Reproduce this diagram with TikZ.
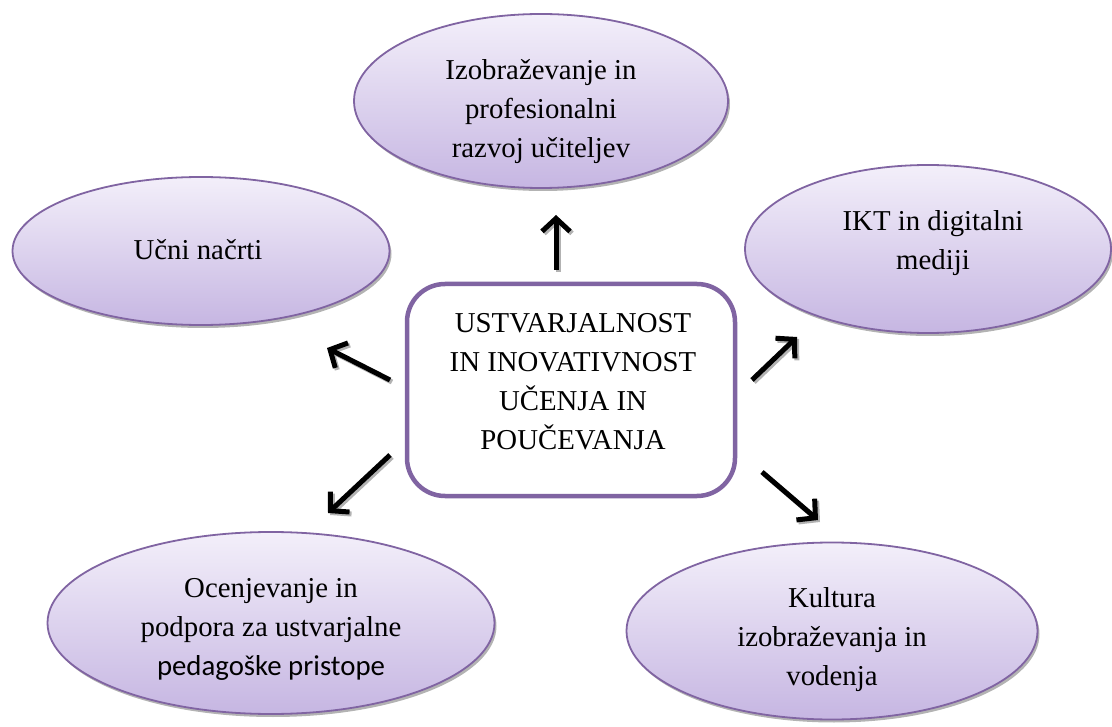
\documentclass[tikz,border=0pt]{standalone}
\usepackage{fontspec}
\setmainfont{Liberation Serif}
\newfontfamily\calibrifont{Carlito}
\usetikzlibrary{shapes.geometric,shadows,arrows.meta}
\definecolor{purp}{HTML}{8064A2}
\definecolor{ltop}{RGB}{243,239,250}
\definecolor{lbot}{RGB}{198,182,226}
\begin{document}
\begin{tikzpicture}[x=1pt,y=1pt,
  bubble/.style={ellipse, draw=purp, line width=1.8pt, top color=ltop, bottom color=lbot,
    drop shadow={shadow xshift=2pt, shadow yshift=-3pt, fill=black!50, opacity=0.6}, inner sep=0pt},
  lbl/.style={align=center, font=\fontsize{28.8}{39}\selectfont, inner sep=0pt},
  hub/.style={rectangle, rounded corners=38pt, draw=purp, line width=4.5pt, fill=white,
    minimum width=328pt, minimum height=212pt, inner sep=0pt},
  arr/.style={line width=5pt, -{Straight Barb[length=13pt,width=28pt]},
    preaction={draw=black!30, line width=5pt, -{Straight Barb[length=13pt,width=28pt]},
      transform canvas={xshift=2pt,yshift=-2pt}}}
]
\useasboundingbox (0,0) rectangle (1112,-727);

% ellipses
\node[bubble, minimum width=374pt, minimum height=174pt] (top) at (541,-101) {};
\node[bubble, minimum width=377pt, minimum height=148pt] (left) at (201,-251) {};
\node[bubble, minimum width=366pt, minimum height=168pt] (right) at (928,-249) {};
\node[bubble, minimum width=447pt, minimum height=182pt] (bl) at (271,-623) {};
\node[bubble, minimum width=411pt, minimum height=177pt] (br) at (832,-631) {};

% labels
\node[lbl] (topt) at (541,-112) {Izobraževanje in\\profesionalni\\razvoj učiteljev};
\node[lbl] (leftt) at (198,-250) {Učni načrti};
\node[lbl] (rightt) at (933,-243) {IKT in digitalni\\mediji};
\node[lbl] (blt) at (271,-629) {Ocenjevanje in\\podpora za ustvarjalne\\{\calibrifont pedagoške pristope}};
\node[lbl] (brt) at (832,-640) {Kultura\\izobraževanja in\\vodenja};

% hub
\node[hub] (hub) at (571,-390) {};
\node[lbl] (hubt) at (573,-382) {USTVARJALNOST\\IN INOVATIVNOST\\UČENJA IN\\POUČEVANJA};

% arrow ends
\coordinate (a1s) at (556,-270); \coordinate (a1e) at (556,-215);
\coordinate (a2s) at (390,-380); \coordinate (a2e) at (327,-348);
\coordinate (a3s) at (390,-455); \coordinate (a3e) at (328,-513);
\coordinate (a4s) at (762,-472); \coordinate (a4e) at (818,-520);
\coordinate (a5s) at (752,-380); \coordinate (a5e) at (797,-337);

\draw[arr] (a1s) -- (a1e);
\draw[arr] (a2s) -- (a2e);
\draw[arr] (a3s) -- (a3e);
\draw[arr] (a4s) -- (a4e);
\draw[arr] (a5s) -- (a5e);
\end{tikzpicture}
\end{document}
